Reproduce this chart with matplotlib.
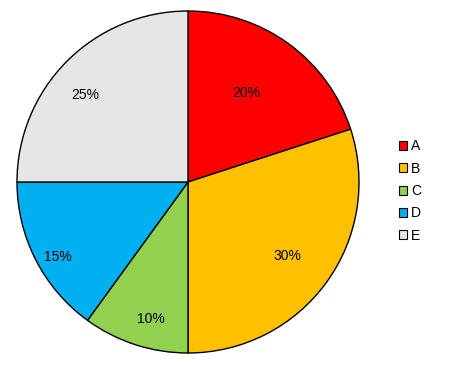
import matplotlib
matplotlib.use("Agg")
import matplotlib.pyplot as plt
from matplotlib.patches import Patch

labels = ["A", "B", "C", "D", "E"]
shares = [20, 30, 10, 15, 25]
colors = ["#FF0000", "#FFC000", "#92D050", "#00B0F0", "#E7E6E6"]
# where each percentage label sits, in units of the pie radius
label_xy = [(0.34, 0.52), (0.58, -0.43), (-0.22, -0.80), (-0.76, -0.44), (-0.60, 0.51)]

fig = plt.figure(figsize=(4.5, 3.66), dpi=100)
ax = fig.add_axes([17 / 450, 13 / 366, 342 / 450, 342 / 366])

wedges, texts = ax.pie(shares, colors=colors, startangle=90, counterclock=False,
                       wedgeprops=dict(edgecolor="black", linewidth=1.0))

for (x, y), s in zip(label_xy, shares):
    ax.text(x, y, f"{s}%", ha="center", va="center",
            fontsize=10, family="Liberation Sans")

ax.set_xlim(-1.0, 1.0)
ax.set_ylim(-1.0, 1.0)
ax.set_aspect("equal")
ax.axis("off")

handles = [Patch(facecolor=c, edgecolor="black", linewidth=0.8, label=l) for c, l in zip(colors, labels)]
fig.legend(handles=handles, loc="center left", bbox_to_anchor=(386 / 450, 175 / 366),
           frameon=False, handlelength=0.6, handleheight=0.6, handletextpad=0.3,
           labelspacing=0.6, prop=dict(family="Liberation Sans", size=10))

fig.savefig("out.png", dpi=100)
